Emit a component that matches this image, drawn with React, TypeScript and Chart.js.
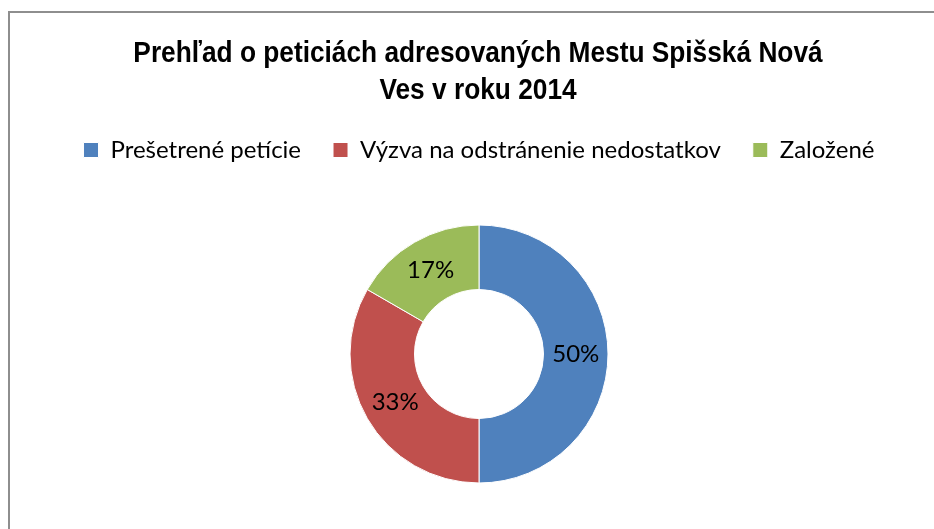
import React, { useEffect, useRef } from "react";
import { Chart, registerables } from "chart.js";

Chart.register(...registerables);

const titleLines = ["Prehľad o peticiách adresovaných Mestu Spišská Nová", "Ves v roku 2014"];
const categories = ["Prešetrené petície", "Výzva na odstránenie nedostatkov", "Založené"];
const values = [3, 2, 1];
const colors = ["#4F81BD", "#C0504D", "#9BBB59"];

const BODY_FONT = "Lato, 'Open Sans', sans-serif";
const TITLE_FONT = "bold 30px 'Liberation Sans', Arial, sans-serif";

const percentLabels = {
  id: "percentLabels",
  afterDatasetsDraw(chart: any) {
    const ctx = chart.ctx;
    const meta = chart.getDatasetMeta(0);
    const data = chart.data.datasets[0].data as number[];
    const total = data.reduce((a, b) => a + b, 0);
    ctx.save();
    ctx.fillStyle = "#000";
    ctx.font = `24px ${BODY_FONT}`;
    ctx.textAlign = "center";
    ctx.textBaseline = "middle";
    meta.data.forEach((arc: any, i: number) => {
      const p = arc.tooltipPosition();
      const pct = Math.round((data[i] / total) * 100) + "%";
      ctx.fillText(pct, p.x, p.y);
    });
    ctx.restore();
  },
};

// Condensed bold title (the original uses a narrow bold face)
const narrowTitle = {
  id: "narrowTitle",
  afterDraw(chart: any) {
    const ctx = chart.ctx;
    const cx = (chart.chartArea.left + chart.chartArea.right) / 2 - 1;
    const baselines = [62, 99];
    ctx.save();
    ctx.fillStyle = "#000";
    ctx.font = TITLE_FONT;
    ctx.textAlign = "center";
    ctx.textBaseline = "alphabetic";
    titleLines.forEach((line, i) => {
      ctx.save();
      ctx.translate(cx, baselines[i]);
      ctx.scale(0.876, 1);
      ctx.fillText(line, 0, 0);
      ctx.restore();
    });
    ctx.restore();
  },
};

export default function App() {
  const ref = useRef<HTMLCanvasElement | null>(null);

  useEffect(() => {
    if (!ref.current) return;
    const chart = new Chart(ref.current, {
      type: "doughnut",
      data: {
        labels: categories,
        datasets: [
          {
            data: values,
            backgroundColor: colors,
            borderColor: "#ffffff",
            borderWidth: 1,
          },
        ],
      },
      plugins: [percentLabels, narrowTitle],
      options: {
        animation: false,
        responsive: false,
        maintainAspectRatio: false,
        cutout: "50%",
        radius: 129,
        layout: { padding: { left: 24, right: 0, top: 106, bottom: 46 } },
        plugins: {
          tooltip: { enabled: false },
          title: { display: false },
          subtitle: {
            display: true,
            text: "",
            position: "top",
            weight: 500,
            font: { size: 1, lineHeight: 1 },
            padding: { top: 0, bottom: 52 },
          } as any,
          legend: {
            display: true,
            position: "top",
            labels: {
              color: "#000",
              boxWidth: 15,
              boxHeight: 15,
              padding: 32,
              font: { family: BODY_FONT, size: 24 },
            },
          },
        },
      },
    });
    return () => chart.destroy();
  }, []);

  return (
    <div style={{ position: "fixed", left: 0, top: 0, width: 934, height: 529, background: "#fff", overflow: "hidden" }}>
      <div
        style={{
          position: "absolute",
          left: 8,
          top: 11,
          width: 960,
          height: 560,
          border: "2px solid #8E8E8E",
          boxSizing: "border-box",
        }}
      />
      <canvas ref={ref} width={934} height={529} style={{ position: "absolute", left: 0, top: 0 }} />
    </div>
  );
}
